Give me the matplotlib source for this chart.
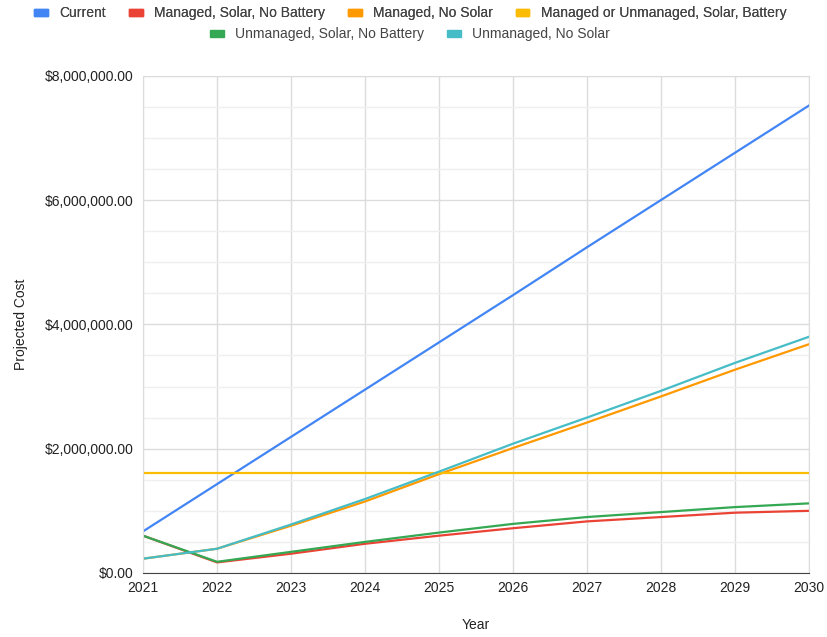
import matplotlib
matplotlib.use('Agg')

import matplotlib.pyplot as plt
from matplotlib.patches import Patch
from matplotlib.ticker import FuncFormatter, MultipleLocator

plt.rcParams['font.family'] = ['Liberation Sans', 'DejaVu Sans']

# Data (values in dollars)
years = [2021, 2022, 2023, 2024, 2025, 2026, 2027, 2028, 2029, 2030]
current = [670000, 1430000, 2190000, 2950000, 3710000, 4470000, 5240000, 6000000, 6760000, 7520000]
managed_solar_no_battery = [600000, 170000, 310000, 470000, 600000, 720000, 830000, 900000, 970000, 1000000]
managed_no_solar = [230000, 390000, 760000, 1150000, 1590000, 2010000, 2420000, 2840000, 3270000, 3680000]
solar_battery = [1610000] * 10
unmanaged_solar_no_battery = [600000, 180000, 340000, 500000, 650000, 790000, 900000, 980000, 1060000, 1120000]
unmanaged_no_solar = [230000, 390000, 780000, 1190000, 1630000, 2080000, 2500000, 2930000, 3380000, 3800000]

series = [
    ("Current", current, "#4285F4"),
    ("Managed, Solar, No Battery", managed_solar_no_battery, "#EA4335"),
    ("Managed, No Solar", managed_no_solar, "#FF9900"),
    ("Managed or Unmanaged, Solar, Battery", solar_battery, "#FBBC04"),
    ("Unmanaged, Solar, No Battery", unmanaged_solar_no_battery, "#34A853"),
    ("Unmanaged, No Solar", unmanaged_no_solar, "#46BDC6"),
]

text_color = '#222222'

fig = plt.figure(figsize=(8.27, 6.37), dpi=100)
ax = fig.add_axes([0.173, 0.1005, 0.805, 0.7805])

for name, values, color in series:
    ax.plot(years, values, color=color, linewidth=1.6, label=name)

ax.set_xlim(2021, 2030)
ax.set_ylim(0, 8000000)
ax.set_xticks(years)
ax.yaxis.set_major_locator(MultipleLocator(2000000))
ax.yaxis.set_minor_locator(MultipleLocator(500000))
ax.yaxis.set_major_formatter(FuncFormatter(lambda v, p: f"${v:,.2f}"))

ax.grid(True, which='major', color='#dcdcdc', linewidth=1)
ax.grid(True, which='minor', axis='y', color='#efefef', linewidth=1)
ax.set_axisbelow(True)
for side in ['top', 'right', 'left']:
    ax.spines[side].set_color('#dcdcdc')
ax.spines['bottom'].set_color('#444444')
ax.tick_params(axis='both', which='both', length=0, labelsize=10, colors=text_color)
ax.tick_params(axis='x', pad=6)
ax.tick_params(axis='y', pad=7)

ax.set_xlabel("Year", fontsize=10, color=text_color, labelpad=16)
ax.set_ylabel("Projected Cost", fontsize=10, color=text_color, labelpad=12)

handles = [Patch(color=c, label=n) for n, _, c in series]
legend_kw = dict(loc='center', frameon=False, fontsize=10, handlelength=1.0, handleheight=0.4,
                 handletextpad=0.8, columnspacing=1.65, labelcolor='#444444')
leg1 = fig.legend(handles=handles[:4], bbox_to_anchor=(0.496, 0.979), ncol=4, **legend_kw)
leg2 = fig.legend(handles=handles[4:], bbox_to_anchor=(0.496, 0.946), ncol=2, **legend_kw)
fig.add_artist(leg1)

fig.savefig("out.png", dpi=100, facecolor='white')
